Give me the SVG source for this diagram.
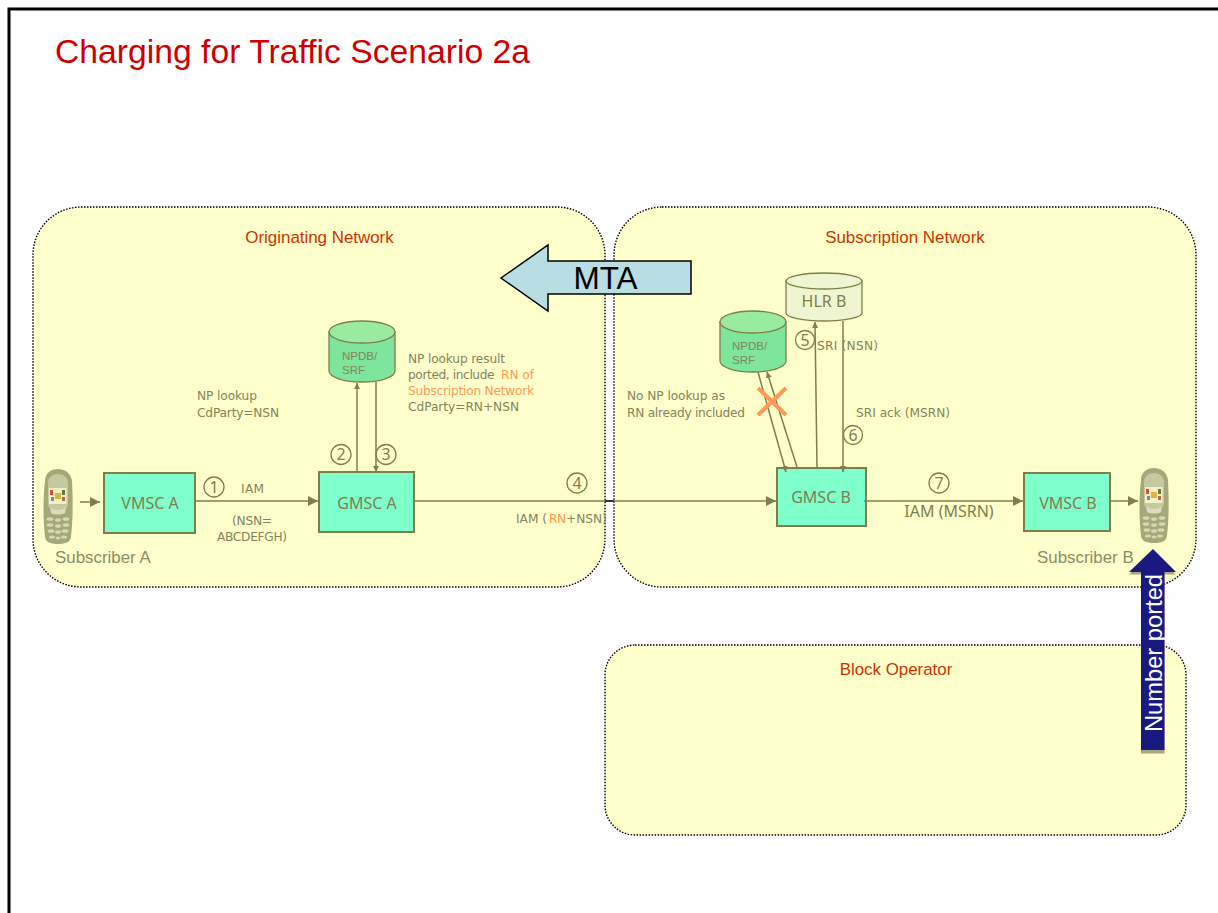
<svg xmlns="http://www.w3.org/2000/svg" xmlns:xlink="http://www.w3.org/1999/xlink" width="1218" height="913" viewBox="0 0 1218 913">
<style>
text{font-family:"DejaVu Sans",sans-serif;fill:#84845a;font-size:12.2px}
.a{font-family:"Liberation Sans",Arial,sans-serif}
.b{font-family:"Noto Sans",sans-serif;font-size:16px;fill:#7f7f4c}
.db{font-family:"Liberation Sans",Arial,sans-serif;font-size:11.5px}
.sub{font-family:"Liberation Sans",Arial,sans-serif;font-size:16.9px;fill:#8c8c66}
.net{fill:#ffffcc;stroke:#000;stroke-width:1.4;stroke-dasharray:1.5 1.5}
.box{fill:#7fffcc;stroke:#7f7f4c;stroke-width:2}
.ln{fill:none;stroke:#7f7f4c;stroke-width:1.5}
.ttl{fill:#cc3300;font-family:"Liberation Sans",Arial,sans-serif;font-size:16.9px;text-anchor:middle}
.o{fill:#ff9955}
.m{text-anchor:middle}
.num{fill:none;stroke:#7f7f4c;stroke-width:1.3}
.cyl{fill:#7ee69c;stroke:#7f7f4c;stroke-width:1.3}
.top{fill:#99eba0;stroke:#7f7f4c;stroke-width:1.3}
.hl{fill:#eef5d0;stroke:#7f7f4c;stroke-width:1.3}
</style>
<defs>
<marker id="ah" markerUnits="userSpaceOnUse" markerWidth="12" markerHeight="12" refX="10" refY="5" orient="auto"><path d="M0 0L10 5L0 10z" fill="#7f7f4c"/></marker>
<marker id="as" markerUnits="userSpaceOnUse" markerWidth="8" markerHeight="8" refX="6" refY="3" orient="auto"><path d="M0 0L6 3L0 6z" fill="#7f7f4c"/></marker>
<filter id="soft" x="-10%" y="-10%" width="120%" height="120%"><feGaussianBlur stdDeviation="0.5"/></filter>
<g id="phone">
<g filter="url(#soft)">
<path d="M3 12C3 4 9 0 16 0C23 0 29 4 30 12C31 30 31 50 29 68C28 73 24 75 16 75C8 75 4 73 3 68C1 50 1 30 3 12z" fill="#a5a878"/>
<path d="M6 14C6 8 11 5 16 5C21 5 26 8 26 14L26 36C24 41 20 43 16 43C12 43 8 41 6 36z" fill="#c6c8a0"/>
<rect x="7" y="19" width="17.500" height="16" fill="#f2efc0"/>
<rect x="8" y="21" width="3" height="5" fill="#d0503a"/><rect x="20" y="21" width="3" height="5" fill="#5c7a4a"/><rect x="13" y="24" width="6" height="6" fill="#d8b83c"/><rect x="9" y="28" width="3" height="4" fill="#6f8fa0"/><rect x="20" y="28" width="3" height="4" fill="#b06a50"/>
<path d="M8 38C11 42 21 42 24 38L23 44C20 46 12 46 9 44z" fill="#dcdcbc"/>
<g fill="#d6d8b4"><ellipse cx="8" cy="50" rx="3.500" ry="1.800"/><ellipse cx="16" cy="51" rx="3" ry="1.800"/><ellipse cx="24" cy="50" rx="3.500" ry="1.800"/><ellipse cx="8" cy="56" rx="3.500" ry="1.800"/><ellipse cx="16" cy="57" rx="3" ry="1.800"/><ellipse cx="24" cy="56" rx="3.500" ry="1.800"/><ellipse cx="9" cy="62" rx="3.500" ry="1.800"/><ellipse cx="16" cy="63" rx="3" ry="1.800"/><ellipse cx="23" cy="62" rx="3.500" ry="1.800"/><ellipse cx="10" cy="68" rx="3" ry="1.600"/><ellipse cx="16" cy="69" rx="2.500" ry="1.600"/><ellipse cx="22" cy="68" rx="3" ry="1.600"/></g>
</g>
</g>
</defs>
<rect width="1218" height="913" fill="#fff"/>
<path d="M9 913V9H1218" fill="none" stroke="#000" stroke-width="3"/>
<text id="title" x="55" y="63" class="a" style="font-size:33.7px;fill:#cc0000">Charging for Traffic Scenario 2a</text>

<g id="net-orig"><rect class="net" x="33" y="207" width="572" height="380" rx="48"/><text class="ttl" x="319.500" y="243">Originating Network</text></g>
<g id="net-sub"><rect class="net" x="614" y="207" width="582" height="380" rx="48"/><text class="ttl" x="905" y="243">Subscription Network</text></g>
<g id="net-block"><rect class="net" x="605" y="645" width="581" height="190" rx="30"/><text class="ttl" x="896" y="675">Block Operator</text></g>

<g id="phone-a"><use xlink:href="#phone" x="42" y="469"/><text class="sub" x="55" y="563">Subscriber A</text></g>
<g id="vmsc-a"><rect class="box" x="104" y="473" width="91" height="60"/><text class="b m" x="150" y="509">VMSC A</text></g>
<g id="gmsc-a"><rect class="box" x="319" y="472" width="95" height="60"/><text class="b m" x="367" y="509">GMSC A</text></g>
<g id="gmsc-b"><rect class="box" x="777" y="468" width="89" height="58"/><text class="b m" x="821" y="503">GMSC B</text></g>
<g id="vmsc-b"><rect class="box" x="1024" y="473" width="86" height="58"/><text class="b m" x="1068" y="509">VMSC B</text></g>
<g id="phone-b"><use xlink:href="#phone" x="1138" y="468"/><text class="sub" x="1037" y="563">Subscriber B</text></g>

<g id="npdb-a">
<path class="cyl" d="M329 332V371A33 11 0 0 0 395 371V332z"/>
<ellipse class="top" cx="362" cy="332" rx="33" ry="11"/>
<text class="db" x="342" y="360">NPDB/</text><text class="db" x="342" y="374">SRF</text>
</g>
<g id="npdb-b">
<path class="cyl" d="M720 322V361A33 11 0 0 0 786 361V322z"/>
<ellipse class="top" cx="753" cy="322" rx="33" ry="11"/>
<text class="db" x="732" y="350">NPDB/</text><text class="db" x="732" y="364">SRF</text>
</g>
<g id="hlr-b">
<path class="hl" d="M786 281V313A38 8 0 0 0 862 313V281z"/>
<ellipse class="hl" cx="824" cy="281" rx="38" ry="8"/>
<text class="b m" x="824" y="307">HLR B</text>
</g>

<g id="connectors">
<path class="ln" marker-end="url(#ah)" d="M80 502H100"/>
<path class="ln" marker-end="url(#ah)" d="M196 501H318"/>
<path class="ln" marker-end="url(#as)" d="M357 472V383"/>
<path class="ln" marker-end="url(#as)" d="M376 382V472"/>
<path class="ln" marker-end="url(#ah)" d="M415 501H776"/>
<path d="M605 501H614" stroke="#111" stroke-width="1.5"/>
<path class="ln" marker-end="url(#as)" d="M758 372L786 472"/>
<path class="ln" marker-end="url(#as)" d="M797 467L767 372"/>
<path class="ln" marker-end="url(#as)" d="M817 467L815 322"/>
<path class="ln" marker-end="url(#as)" d="M843 321V472"/>
<path class="ln" marker-end="url(#ah)" d="M864 501H1023"/>
<path class="ln" marker-end="url(#ah)" d="M1111 501H1138"/>
</g>

<g id="labels">
<text x="197" y="400" textLength="60">NP lookup</text><text x="197" y="417" textLength="82">CdParty=NSN</text>
<text x="408" y="363" textLength="97">NP lookup result</text>
<text y="379"><tspan x="408" textLength="90">ported, include </tspan><tspan class="o" x="501" textLength="33">RN of</tspan></text>
<text x="408" y="395" class="o" textLength="126">Subscription Network</text>
<text x="408" y="411" textLength="111">CdParty=RN+NSN</text>
<text x="241" y="493" textLength="23">IAM</text>
<text x="232" y="525" textLength="40">(NSN=</text><text x="217" y="541" textLength="70">ABCDEFGH)</text>
<text y="523"><tspan x="516" textLength="31">IAM (</tspan><tspan class="o" x="549" textLength="17">RN</tspan><tspan x="566" textLength="41">+NSN)</tspan></text>
<text x="627" y="400" textLength="98">No NP lookup as</text><text x="627" y="417" textLength="118">RN already included</text>
<text x="817" y="350" textLength="61">SRI (NSN)</text>
<text x="856" y="417" textLength="94">SRI ack (MSRN)</text>
<text class="b m" x="949" y="517">IAM (MSRN)</text>
</g>

<g id="steps">
<circle class="num" cx="214" cy="487" r="10"/><text class="b m" x="214" y="493">1</text>
<circle class="num" cx="341" cy="454.500" r="10"/><text class="b m" x="341" y="460">2</text>
<circle class="num" cx="386" cy="454.500" r="10"/><text class="b m" x="386" y="460">3</text>
<circle class="num" cx="577" cy="483" r="10"/><text class="b m" x="577" y="489">4</text>
<circle class="num" cx="805" cy="340" r="9.500"/><text class="b m" x="805" y="346">5</text>
<circle class="num" cx="853" cy="435" r="9.500"/><text class="b m" x="853" y="441">6</text>
<circle class="num" cx="939" cy="483" r="10"/><text class="b m" x="939" y="489">7</text>
</g>

<g id="cross"><path d="M758 388L786 415M786 388L758 415" stroke="#ff9955" stroke-width="4" fill="none"/></g>

<g id="mta">
<path d="M501 278L548 245V261H691V294H548V311z" fill="#b8dde3" stroke="#000" stroke-width="1.5"/>
<text class="a m" x="605.500" y="289" style="font-size:31.500px;fill:#000">MTA</text>
</g>
<g id="ported">
<path d="M1153 552L1176 573H1164.500V752H1141V573H1129z" fill="#a8a880" transform="translate(0 1.500)"/>
<path d="M1153 549L1176 572H1164.500V750H1141V572H1129z" fill="#191980"/>
<text class="a" transform="translate(1162 732) rotate(-90)" style="font-size:23.700px;fill:#fff">Number ported</text>
</g>
</svg>
